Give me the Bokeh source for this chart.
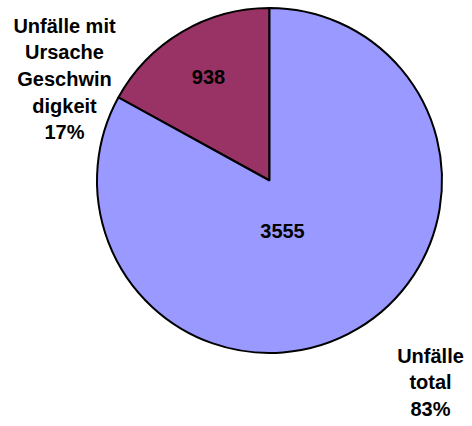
from bokeh.plotting import figure
from bokeh.models import Range1d, ColumnDataSource
from bokeh.core.properties import value
from bokeh.embed import file_html
from bokeh.resources import INLINE
import math

# Data
categories = ["Unfälle mit Ursache Geschwindigkeit", "Unfälle total"]
values = [938, 3555]
percents = [17, 83]
label_lines = [["Unfälle mit", "Ursache", "Geschwin", "digkeit"], ["Unfälle", "total"]]
colors = ["#993366", "#9999FF"]

W, H = 472, 426
p = figure(width=W, height=H, output_backend="svg", toolbar_location=None,
           x_range=Range1d(0, W), y_range=Range1d(-H, 0),
           min_border=0, outline_line_color=None)
p.axis.visible = False
p.grid.visible = False
p.background_fill_color = "white"
p.border_fill_color = "white"

cx, cy, r = 269, -180, 172.5

# angles: start at top, maroon slice goes anticlockwise from top (appears left of top)
starts, ends = [], []
acc = 0.0
for pc in percents:
    starts.append(math.radians(90 + acc * 3.6))
    acc += pc
    ends.append(math.radians(90 + acc * 3.6))

src = ColumnDataSource(dict(start=starts, end=ends, color=colors))
p.wedge(x=cx, y=cy, radius=r, start_angle="start", end_angle="end",
        direction="anticlock", fill_color="color", line_color="black",
        line_width=2, source=src)

# value labels inside slices
val_pos = [(208, -76), (282, -230)]
p.text(x=[v[0] for v in val_pos], y=[v[1] for v in val_pos],
       text=[str(v) for v in values], text_font=value("Liberation Sans"),
       text_font_style="bold", text_font_size="20px", text_align="center",
       text_baseline="middle", text_color="black")

# category labels outside
lab_pos = [(64, -78.5), (430, -382)]
texts = ["\n".join(lines + [f"{pc}%"]) for lines, pc in zip(label_lines, percents)]
p.text(x=[v[0] for v in lab_pos], y=[v[1] for v in lab_pos], text=texts,
       text_font=value("Liberation Sans"), text_font_style="bold",
       text_font_size="20px", text_align="center", text_baseline="middle",
       text_line_height=1.21, text_color="black")

open("out.html", "w").write(file_html(p, INLINE))
